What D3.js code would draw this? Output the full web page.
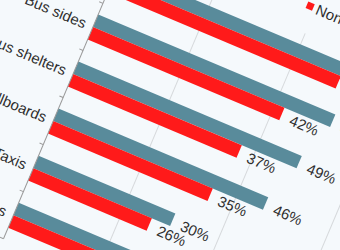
<!DOCTYPE html>
<html>
<head>
<meta charset="utf-8">
<script src="https://cdn.jsdelivr.net/npm/d3@7"></script>
<style>
  html, body { margin: 0; padding: 0; background: #f5f9fc; overflow: hidden; }
  svg { display: block; font-family: "Liberation Sans", Arial, sans-serif; }
</style>
</head>
<body>
<svg id="chart"></svg>
<script>
// Chart size
const width = 340, height = 250;

// Data (percent)
const categories = ["Buses", "Bus sides", "Bus shelters", "Billboards", "Taxis", "Trains"];
const seriesNames = ["London", "Non-London"];
const londonValues = [56, 52, 49, 46, 30, 27];
const nonLondonValues = [50, 42, 37, 35, 26, 23];
const xTicks = [0, 20, 40, 60, 80];

const colors = { "London": "#598b9b", "Non-London": "#ff1a1a" };

// The whole chart is seen tilted, so draw it in a rotated group
const origin = [122.8, -43.7], angle = 22.9;
const plotW = 396, plotH = 306.6;
const fontSize = 15;

const svg = d3.select("#chart")
  .attr("width", width)
  .attr("height", height);

svg.append("rect")
  .attr("width", width)
  .attr("height", height)
  .attr("fill", "#f5f9fc");

const g = svg.append("g")
  .attr("transform", `translate(${origin[0]},${origin[1]}) rotate(${angle})`);

const x = d3.scaleLinear()
  .domain([0, 80])
  .range([0, plotW]);

const y = d3.scaleBand()
  .domain(categories)
  .range([0, plotH])
  .paddingInner(0.47)
  .paddingOuter(0.235);

const ySub = d3.scaleBand()
  .domain(seriesNames)
  .range([0, y.bandwidth()]);

// Gridlines
g.selectAll(".grid")
  .data(xTicks.filter(d => d > 0))
  .join("line")
  .attr("class", "grid")
  .attr("x1", d => x(d)).attr("x2", d => x(d))
  .attr("y1", 0).attr("y2", plotH)
  .attr("stroke", "#d6d9dc")
  .attr("stroke-width", 1);

// Build rows
const rows = categories.map((c, i) => ({
  category: c,
  values: [
    { key: "London", value: londonValues[i] },
    { key: "Non-London", value: nonLondonValues[i] }
  ]
}));

const groups = g.selectAll(".cat")
  .data(rows)
  .join("g")
  .attr("class", "cat")
  .attr("transform", d => `translate(0,${y(d.category)})`);

groups.selectAll("rect")
  .data(d => d.values)
  .join("rect")
  .attr("x", 0)
  .attr("y", d => ySub(d.key))
  .attr("width", d => x(d.value))
  .attr("height", ySub.bandwidth())
  .attr("fill", d => colors[d.key]);

groups.selectAll(".val")
  .data(d => d.values)
  .join("text")
  .attr("class", "val")
  .attr("x", d => x(d.value) + 10)
  .attr("y", d => ySub(d.key) + ySub.bandwidth() / 2 + 2)
  .attr("dy", "0.35em")
  .attr("font-size", fontSize)
  .attr("fill", "#2e2e2e")
  .text(d => `${d.value}%`);

// Category axis with ticks between categories
g.append("line")
  .attr("x1", 0).attr("x2", 0)
  .attr("y1", 0).attr("y2", plotH)
  .attr("stroke", "#999");

g.selectAll(".tick")
  .data(d3.range(categories.length + 1))
  .join("line")
  .attr("class", "tick")
  .attr("x1", -4).attr("x2", 0)
  .attr("y1", d => d * y.step()).attr("y2", d => d * y.step())
  .attr("stroke", "#999");

g.selectAll(".catLabel")
  .data(categories)
  .join("text")
  .attr("class", "catLabel")
  .attr("x", -8)
  .attr("y", d => y(d) + y.bandwidth() / 2)
  .attr("dy", "0.35em")
  .attr("text-anchor", "end")
  .attr("font-size", fontSize)
  .attr("fill", "#2e2e2e")
  .text(d => d);

// Legend
const legend = g.append("g")
  .attr("transform", "translate(192,-27)");

const legendItems = legend.selectAll("g")
  .data(["Non-London", "London"])
  .join("g")
  .attr("transform", (d, i) => `translate(${i * 100},0)`);

legendItems.append("rect")
  .attr("x", -3.5).attr("y", -3.5)
  .attr("width", 7).attr("height", 7)
  .attr("fill", d => colors[d]);

legendItems.append("text")
  .attr("x", 7)
  .attr("dy", "0.35em")
  .attr("font-size", fontSize)
  .attr("fill", "#2e2e2e")
  .text(d => d);
</script>
</body>
</html>
